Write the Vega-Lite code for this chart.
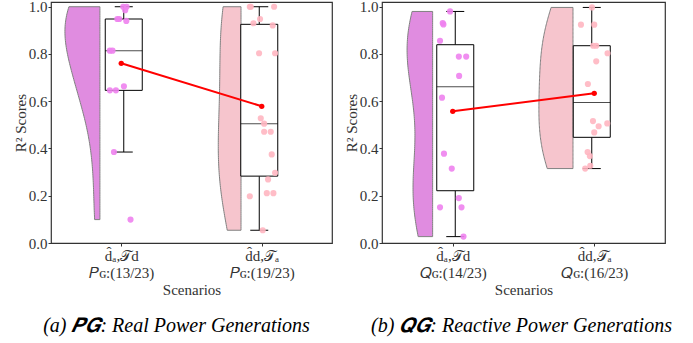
{
  "$schema": "https://vega.github.io/schema/vega-lite/v6.json",
  "padding": {"left": 12, "top": -1, "right": 0, "bottom": 0},
  "spacing": 10,
  "config": {
    "view": {"stroke": "#333333", "strokeWidth": 1.2},
    "font": "Liberation Serif",
    "axis": {"labelFont": "Liberation Serif", "titleFont": "Liberation Serif", "labelFontSize": 15, "titleFontSize": 15, "titleFontWeight": "normal", "labelColor": "#333333", "titleColor": "#333333", "tickColor": "#333333", "domain": false, "grid": false, "tickSize": 3, "labelPadding": 1},
    "axisY": {"titlePadding": 0},
    "axisX": {"titlePadding": 2, "labelPadding": 2, "labelLineHeight": 17}
  },
  "datasets": {
    "pg": [
      {"cat": 0, "v": 1.0, "jx": 0.014},
      {"cat": 0, "v": 1.0, "jx": 0.038},
      {"cat": 0, "v": 0.985, "jx": 0.028},
      {"cat": 0, "v": 0.948, "jx": -0.028},
      {"cat": 0, "v": 0.948, "jx": -0.014},
      {"cat": 0, "v": 0.94, "jx": 0.036},
      {"cat": 0, "v": 0.814, "jx": -0.081},
      {"cat": 0, "v": 0.814, "jx": -0.062},
      {"cat": 0, "v": 0.646, "jx": -0.081},
      {"cat": 0, "v": 0.646, "jx": -0.038},
      {"cat": 0, "v": 0.663, "jx": 0.019},
      {"cat": 0, "v": 0.385, "jx": -0.052},
      {"cat": 0, "v": 0.099, "jx": 0.066},
      {"cat": 1, "v": 1.0, "jx": 0.915},
      {"cat": 1, "v": 1.0, "jx": 1.088},
      {"cat": 1, "v": 1.0, "jx": 0.922},
      {"cat": 1, "v": 0.948, "jx": 0.988},
      {"cat": 1, "v": 0.93, "jx": 0.941},
      {"cat": 1, "v": 0.921, "jx": 1.078},
      {"cat": 1, "v": 0.803, "jx": 0.981},
      {"cat": 1, "v": 0.803, "jx": 1.095},
      {"cat": 1, "v": 0.528, "jx": 0.993},
      {"cat": 1, "v": 0.505, "jx": 1.017},
      {"cat": 1, "v": 0.471, "jx": 1.017},
      {"cat": 1, "v": 0.471, "jx": 1.064},
      {"cat": 1, "v": 0.375, "jx": 1.071},
      {"cat": 1, "v": 0.297, "jx": 1.095},
      {"cat": 1, "v": 0.269, "jx": 1.045},
      {"cat": 1, "v": 0.211, "jx": 1.036},
      {"cat": 1, "v": 0.211, "jx": 1.083},
      {"cat": 1, "v": 0.198, "jx": 0.915},
      {"cat": 1, "v": 0.054, "jx": 1.007}
    ],
    "qg": [
      {"cat": 0, "v": 0.98, "jx": -0.019},
      {"cat": 0, "v": 0.931, "jx": -0.071},
      {"cat": 0, "v": 0.925, "jx": -0.066},
      {"cat": 0, "v": 0.856, "jx": -0.09},
      {"cat": 0, "v": 0.789, "jx": 0.043},
      {"cat": 0, "v": 0.789, "jx": 0.095},
      {"cat": 0, "v": 0.707, "jx": 0.045},
      {"cat": 0, "v": 0.615, "jx": -0.076},
      {"cat": 0, "v": 0.378, "jx": -0.062},
      {"cat": 0, "v": 0.315, "jx": -0.007},
      {"cat": 0, "v": 0.19, "jx": 0.043},
      {"cat": 0, "v": 0.151, "jx": -0.09},
      {"cat": 0, "v": 0.151, "jx": 0.062},
      {"cat": 0, "v": 0.027, "jx": 0.076},
      {"cat": 1, "v": 0.997, "jx": 0.984},
      {"cat": 1, "v": 0.924, "jx": 0.906},
      {"cat": 1, "v": 0.924, "jx": 1.0},
      {"cat": 1, "v": 0.835, "jx": 0.993},
      {"cat": 1, "v": 0.835, "jx": 1.014},
      {"cat": 1, "v": 0.803, "jx": 1.094},
      {"cat": 1, "v": 0.769, "jx": 1.014},
      {"cat": 1, "v": 0.673, "jx": 0.955},
      {"cat": 1, "v": 0.516, "jx": 0.991},
      {"cat": 1, "v": 0.506, "jx": 1.092},
      {"cat": 1, "v": 0.494, "jx": 1.031},
      {"cat": 1, "v": 0.468, "jx": 1.0},
      {"cat": 1, "v": 0.385, "jx": 0.953},
      {"cat": 1, "v": 0.368, "jx": 0.969},
      {"cat": 1, "v": 0.327, "jx": 0.972},
      {"cat": 1, "v": 0.315, "jx": 0.936}
    ]
  },
  "hconcat": [
    {
      "width": 281,
      "height": 241,
      "data": {"name": "pg"},
      "title": {"text": "(a) 𝑷𝑮: Real Power Generations", "orient": "bottom", "anchor": "middle", "font": "Liberation Serif", "fontSize": 20, "fontStyle": "italic", "fontWeight": "normal", "color": "black", "offset": 19, "dx": -15},
      "resolve": {"scale": {"x": "independent", "color": "independent"}, "axis": {"x": "independent"}},
      "layer": [
        {
          "transform": [{"filter": "datum.cat == 0"}, {"density": "v", "bandwidth": 0.165, "extent": [0.099, 1.0], "steps": 120}],
          "mark": {"type": "area", "orient": "horizontal", "fill": "#e08ce0", "stroke": "#808080", "strokeWidth": 1},
          "encoding": {
            "y": {"field": "value", "type": "quantitative", "title": "R² Scores", "scale": {"domain": [0, 1.02], "nice": false, "zero": false}, "axis": {"values": [0, 0.2, 0.4, 0.6, 0.8, 1.0], "format": ".1f"}},
            "x": {"field": "density", "type": "quantitative", "scale": {"domain": [-10.06, 2.12], "reverse": true, "nice": false, "zero": false}, "axis": null},
            "x2": {"datum": 0}
          }
        },
        {
          "transform": [{"filter": "datum.cat == 1"}, {"density": "v", "bandwidth": 0.25, "extent": [0.054, 1.0], "steps": 120}],
          "mark": {"type": "area", "orient": "horizontal", "fill": "#f6c5cd", "stroke": "#808080", "strokeWidth": 1},
          "encoding": {
            "y": {"field": "value", "type": "quantitative", "title": "R² Scores", "scale": {"domain": [0, 1.02], "nice": false, "zero": false}, "axis": {"values": [0, 0.2, 0.4, 0.6, 0.8, 1.0], "format": ".1f"}},
            "x": {"field": "density", "type": "quantitative", "scale": {"domain": [-3.407, 7.114], "reverse": true, "nice": false, "zero": false}, "axis": null},
            "x2": {"datum": 0}
          }
        },
        {
          "mark": {"type": "boxplot", "extent": 1.5, "outliers": false, "size": 37, "orient": "vertical",
            "box": {"fill": "white", "stroke": "black", "strokeWidth": 1},
            "median": {"color": "black", "strokeWidth": 1},
            "rule": {"color": "black", "strokeWidth": 1},
            "ticks": {"color": "black", "size": 18}},
          "encoding": {
            "x": {"field": "cat", "type": "quantitative", "scale": {"domain": [-0.5, 1.5], "nice": false, "zero": false}, "axis": null},
            "y": {"field": "v", "type": "quantitative", "title": "R² Scores", "axis": {"values": [0, 0.2, 0.4, 0.6, 0.8, 1.0], "format": ".1f"}}
          }
        },
        {
          "mark": {"type": "circle", "size": 38, "opacity": 0.9},
          "encoding": {
            "x": {"field": "jx", "type": "quantitative", "scale": {"domain": [-0.5, 1.5], "nice": false, "zero": false}, "axis": {"values": [0, 1], "title": "Scenarios", "labelExpr": "datum.value == 0 ? ['d̂ₐ,𝒯d', '𝑃ɢ:(13/23)'] : ['d̂d,𝒯ₐ', '𝑃ɢ:(19/23)']"}},
            "y": {"field": "v", "type": "quantitative", "title": "R² Scores", "axis": {"values": [0, 0.2, 0.4, 0.6, 0.8, 1.0], "format": ".1f"}},
            "color": {"field": "cat", "type": "nominal", "scale": {"domain": [0, 1], "range": ["#ee82ee", "#ffb6c1"]}, "legend": null}
          }
        },
        {
          "mark": {"type": "line", "color": "red", "strokeWidth": 2, "point": {"filled": true, "color": "red", "size": 28, "opacity": 1}},
          "encoding": {
            "x": {"field": "cat", "type": "quantitative", "scale": {"domain": [-0.5, 1.5], "nice": false, "zero": false}, "axis": null},
            "y": {"aggregate": "mean", "field": "v", "type": "quantitative", "title": "R² Scores", "axis": {"values": [0, 0.2, 0.4, 0.6, 0.8, 1.0], "format": ".1f"}}
          }
        }
      ]
    },
    {
      "width": 283,
      "height": 241,
      "data": {"name": "qg"},
      "title": {"text": "(b) 𝑸𝑮: Reactive Power Generations", "orient": "bottom", "anchor": "middle", "font": "Liberation Serif", "fontSize": 20, "fontStyle": "italic", "fontWeight": "normal", "color": "black", "offset": 19, "dx": -2},
      "resolve": {"scale": {"x": "independent", "color": "independent"}, "axis": {"x": "independent"}},
      "layer": [
        {
          "transform": [{"filter": "datum.cat == 0"}, {"density": "v", "bandwidth": 0.201, "extent": [0.027, 0.98], "steps": 120}],
          "mark": {"type": "area", "orient": "horizontal", "fill": "#e08ce0", "stroke": "#808080", "strokeWidth": 1},
          "encoding": {
            "y": {"field": "value", "type": "quantitative", "title": "R² Scores", "scale": {"domain": [0, 1.02], "nice": false, "zero": false}, "axis": {"values": [0, 0.2, 0.4, 0.6, 0.8, 1.0], "format": ".1f"}},
            "x": {"field": "density", "type": "quantitative", "scale": {"domain": [-9.04, 1.97], "reverse": true, "nice": false, "zero": false}, "axis": null},
            "x2": {"datum": 0}
          }
        },
        {
          "transform": [{"filter": "datum.cat == 1"}, {"density": "v", "bandwidth": 0.2, "extent": [0.315, 0.997], "steps": 120}],
          "mark": {"type": "area", "orient": "horizontal", "fill": "#f6c5cd", "stroke": "#808080", "strokeWidth": 1},
          "encoding": {
            "y": {"field": "value", "type": "quantitative", "title": "R² Scores", "scale": {"domain": [0, 1.02], "nice": false, "zero": false}, "axis": {"values": [0, 0.2, 0.4, 0.6, 0.8, 1.0], "format": ".1f"}},
            "x": {"field": "density", "type": "quantitative", "scale": {"domain": [-3.108, 6.452], "reverse": true, "nice": false, "zero": false}, "axis": null},
            "x2": {"datum": 0}
          }
        },
        {
          "mark": {"type": "boxplot", "extent": 1.5, "outliers": false, "size": 37, "orient": "vertical",
            "box": {"fill": "white", "stroke": "black", "strokeWidth": 1},
            "median": {"color": "black", "strokeWidth": 1},
            "rule": {"color": "black", "strokeWidth": 1},
            "ticks": {"color": "black", "size": 18}},
          "encoding": {
            "x": {"field": "cat", "type": "quantitative", "scale": {"domain": [-0.5, 1.5], "nice": false, "zero": false}, "axis": null},
            "y": {"field": "v", "type": "quantitative", "title": "R² Scores", "axis": {"values": [0, 0.2, 0.4, 0.6, 0.8, 1.0], "format": ".1f"}}
          }
        },
        {
          "mark": {"type": "circle", "size": 38, "opacity": 0.9},
          "encoding": {
            "x": {"field": "jx", "type": "quantitative", "scale": {"domain": [-0.5, 1.5], "nice": false, "zero": false}, "axis": {"values": [0, 1], "title": "Scenarios", "labelExpr": "datum.value == 0 ? ['d̂ₐ,𝒯d', '𝑄ɢ:(14/23)'] : ['d̂d,𝒯ₐ', '𝑄ɢ:(16/23)']"}},
            "y": {"field": "v", "type": "quantitative", "title": "R² Scores", "axis": {"values": [0, 0.2, 0.4, 0.6, 0.8, 1.0], "format": ".1f"}},
            "color": {"field": "cat", "type": "nominal", "scale": {"domain": [0, 1], "range": ["#ee82ee", "#ffb6c1"]}, "legend": null}
          }
        },
        {
          "mark": {"type": "line", "color": "red", "strokeWidth": 2, "point": {"filled": true, "color": "red", "size": 28, "opacity": 1}},
          "encoding": {
            "x": {"field": "cat", "type": "quantitative", "scale": {"domain": [-0.5, 1.5], "nice": false, "zero": false}, "axis": null},
            "y": {"aggregate": "mean", "field": "v", "type": "quantitative", "title": "R² Scores", "axis": {"values": [0, 0.2, 0.4, 0.6, 0.8, 1.0], "format": ".1f"}}
          }
        }
      ]
    }
  ]
}
